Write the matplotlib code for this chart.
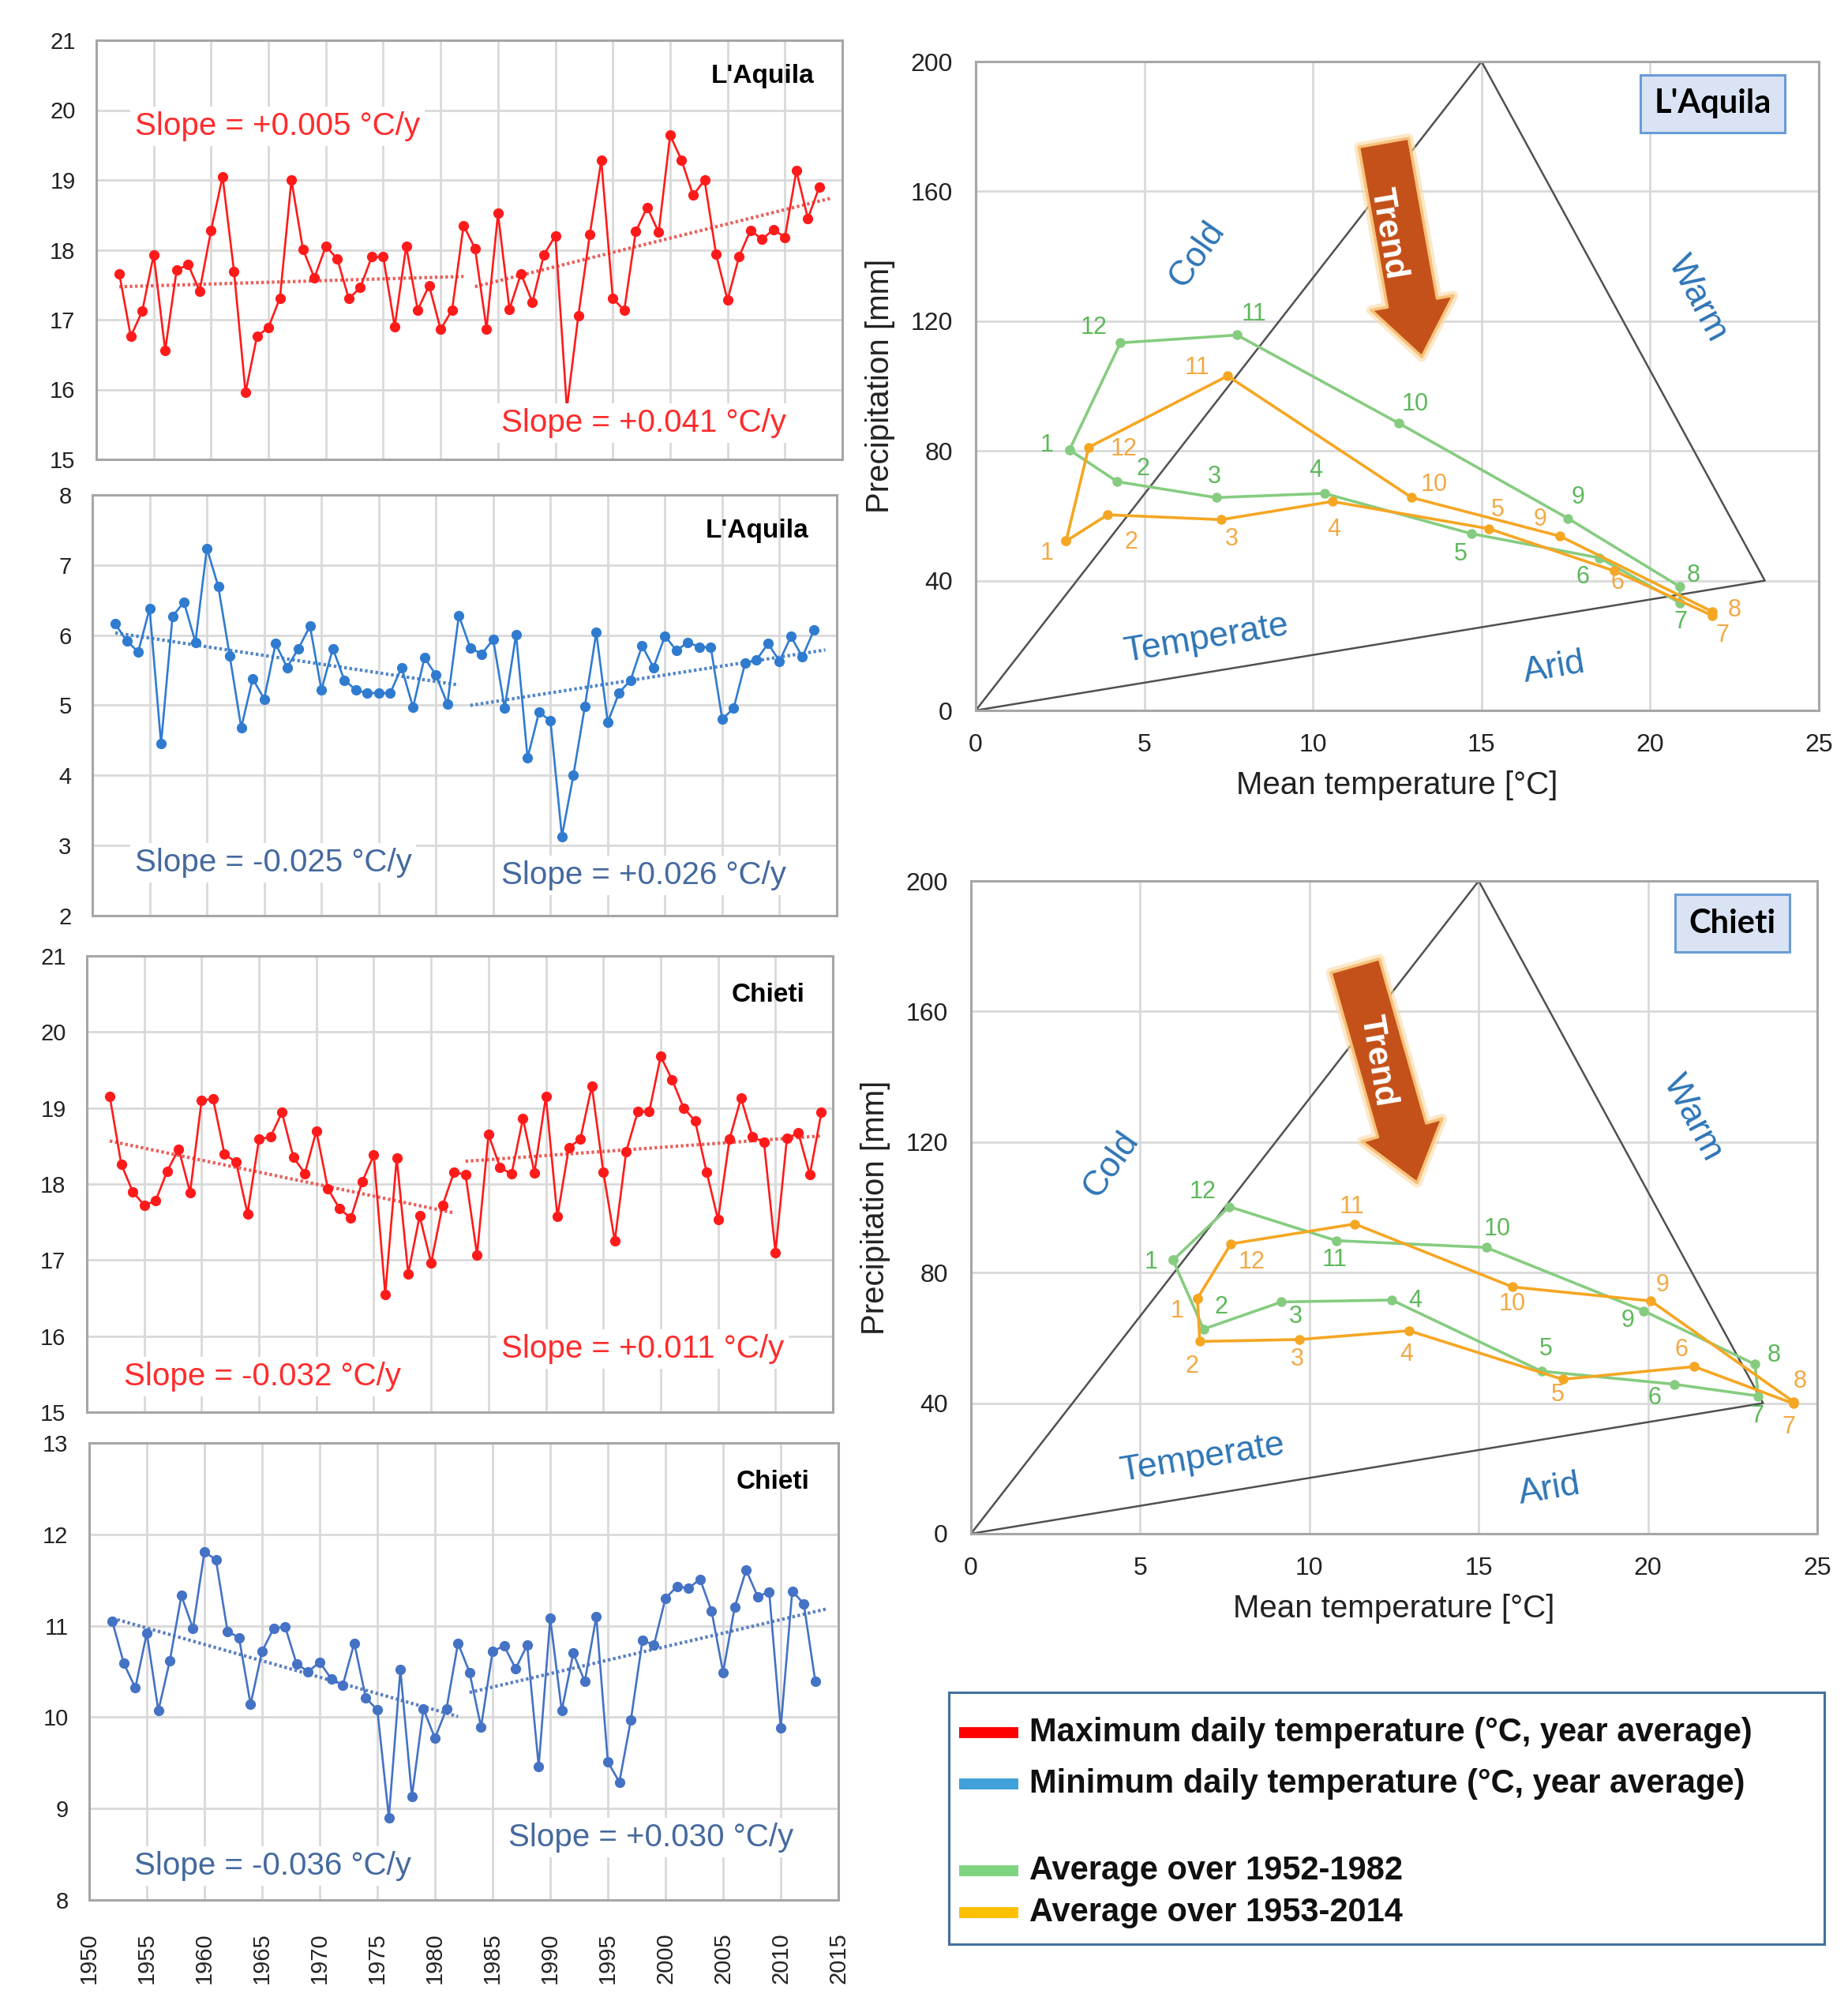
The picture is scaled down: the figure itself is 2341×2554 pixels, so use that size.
import numpy as np
import matplotlib
matplotlib.use("Agg")
import matplotlib.pyplot as plt
from matplotlib.patches import FancyArrowPatch
import matplotlib.patheffects as pe

plt.rcParams['font.family'] = ['Liberation Sans', 'DejaVu Sans']

# ---------------- data: annual series ----------------
years_aquila = np.arange(1952, 2014)
tmax_aquila = [17.66, 16.76, 17.12, 17.93, 16.56, 17.71, 17.79, 17.41, 18.28, 19.05,
               17.69, 15.96, 16.76, 16.89, 17.31, 19.00, 18.01, 17.60, 18.05, 17.87,
               17.30, 17.46, 17.90, 17.90, 16.90, 18.05, 17.14, 17.49, 16.86, 17.14,
               18.35, 18.02, 16.87, 18.52, 17.15, 17.66, 17.25, 17.93, 18.20, 15.73,
               17.06, 18.22, 19.28, 17.31, 17.13, 18.26, 18.61, 18.25, 19.64, 19.28,
               18.78, 19.00, 17.94, 17.28, 17.90, 18.28, 18.15, 18.29, 18.18, 19.13,
               18.45, 18.90]
tmin_aquila = [6.16, 5.92, 5.76, 6.38, 4.45, 6.27, 6.47, 5.90, 7.24, 6.69,
               5.70, 4.68, 5.38, 5.09, 5.88, 5.54, 5.81, 6.13, 5.22, 5.81,
               5.36, 5.22, 5.17, 5.18, 5.17, 5.54, 4.97, 5.68, 5.43, 5.02,
               6.28, 5.82, 5.73, 5.94, 4.96, 6.01, 4.25, 4.90, 4.78, 3.13,
               4.00, 4.98, 6.04, 4.76, 5.18, 5.36, 5.85, 5.54, 5.99, 5.78,
               5.90, 5.83, 5.83, 4.80, 4.96, 5.60, 5.65, 5.88, 5.63, 5.98,
               5.69, 6.07]
years_chieti_max = np.arange(1952, 2015)
tmax_chieti = [19.15, 18.26, 17.90, 17.72, 17.78, 18.17, 18.46, 17.89, 19.10, 19.12,
               18.39, 18.29, 17.61, 18.59, 18.62, 18.94, 18.35, 18.14, 18.70, 17.94,
               17.68, 17.55, 18.03, 18.38, 16.55, 18.34, 16.82, 17.58, 16.96, 17.72,
               18.16, 18.12, 17.07, 18.65, 18.22, 18.13, 18.86, 18.15, 19.15, 17.57,
               18.48, 18.59, 19.29, 18.16, 17.25, 18.43, 18.95, 18.95, 19.68, 19.37,
               19.00, 18.83, 18.16, 17.53, 18.59, 19.13, 18.62, 18.55, 17.10, 18.60,
               18.67, 18.12, 18.94]
years_chieti_min = np.arange(1952, 2014)
tmin_chieti = [11.05, 10.59, 10.32, 10.92, 10.07, 10.62, 11.33, 10.97, 11.81, 11.72,
               10.94, 10.87, 10.14, 10.72, 10.97, 10.99, 10.58, 10.50, 10.60, 10.42,
               10.35, 10.81, 10.21, 10.08, 8.90, 10.52, 9.13, 10.09, 9.77, 10.09,
               10.81, 10.49, 9.89, 10.72, 10.78, 10.53, 10.79, 9.46, 11.08, 10.07,
               10.70, 10.39, 11.10, 9.51, 9.29, 9.97, 10.84, 10.79, 11.30, 11.43,
               11.41, 11.51, 11.16, 10.49, 11.20, 11.61, 11.32, 11.37, 9.88, 11.38,
               11.24, 10.39]
trend_periods = [(1952, 1982), (1983, 2014)]
slopes_tmax_aquila = ["Slope = +0.005 °C/y", "Slope = +0.041 °C/y"]
slopes_tmin_aquila = ["Slope = -0.025 °C/y", "Slope = +0.026 °C/y"]
slopes_tmax_chieti = ["Slope = -0.032 °C/y", "Slope = +0.011 °C/y"]
slopes_tmin_chieti = ["Slope = -0.036 °C/y", "Slope = +0.030 °C/y"]

# ---------------- data: monthly climographs ----------------
months = [str(m) for m in range(1, 13)]
aq_T_a = [2.78, 4.20, 7.13, 10.34, 14.69, 18.50, 20.89, 20.87, 17.56, 12.55, 7.75, 4.29]
aq_P_a = [80.3, 70.5, 65.6, 66.9, 54.5, 47.0, 33.1, 38.2, 59.2, 88.5, 115.7, 113.3]
aq_T_b = [2.68, 3.91, 7.28, 10.57, 15.22, 18.94, 21.83, 21.83, 17.33, 12.93, 7.47, 3.35]
aq_P_b = [52.2, 60.3, 58.8, 64.4, 56.0, 43.0, 29.3, 30.5, 53.7, 65.6, 103.1, 81.1]
ch_T_a = [5.97, 6.87, 9.17, 12.43, 16.85, 20.77, 23.26, 23.16, 19.87, 15.22, 10.79, 7.63]
ch_P_a = [83.8, 62.7, 71.0, 71.6, 49.8, 45.8, 42.2, 51.9, 68.3, 87.7, 89.8, 100.2]
ch_T_b = [6.69, 6.76, 9.70, 12.94, 17.48, 21.37, 24.29, 24.29, 20.09, 16.00, 11.34, 7.68]
ch_P_b = [72.1, 58.9, 59.5, 62.2, 47.3, 51.2, 39.9, 40.5, 71.3, 75.6, 94.9, 88.8]
triangle_T = [0, 15, 23.4, 0]
triangle_P = [0, 200, 40, 0]

# label offsets (data units) for month numbers
off_aq_a = [(-0.66, 1.4), (0.75, 3.9), (-0.06, 6.3), (-0.25, 7.0), (-0.32, -6.4), (-0.5, -5.8),
            (0.0, -5.9), (0.4, 3.5), (0.3, 6.6), (0.47, 5.9), (0.5, 6.4), (-0.8, 4.7)]
off_aq_b = [(-0.56, -3.7), (0.7, -8.4), (0.32, -6.1), (0.05, -8.7), (0.26, 5.8), (0.1, -3.6),
            (0.32, -6.1), (0.67, 0.3), (-0.6, 5.1), (0.66, 3.9), (-0.91, 2.5), (1.04, -0.6)]
off_ch_a = [(-0.66, -0.6), (0.51, 6.6), (0.43, -4.5), (0.69, -0.3), (0.14, 6.8), (-0.57, -4.1),
            (-0.04, -6.1), (0.57, 2.8), (-0.47, -3.0), (0.32, 5.6), (-0.06, -6.0), (-0.79, 4.5)]
off_ch_b = [(-0.61, -3.8), (-0.23, -7.6), (-0.06, -6.1), (-0.08, -7.2), (-0.15, -4.8), (-0.37, 5.2),
            (-0.13, -7.3), (0.19, 6.1), (0.34, 4.9), (0.0, -5.3), (-0.08, 5.3), (0.61, -5.7)]

legend_labels = ["Maximum daily temperature (°C, year average)",
                 "Minimum daily temperature (°C, year average)",
                 "Average over 1952-1982",
                 "Average over 1953-2014"]

# ---------------- styling ----------------
W, H = 2341, 2554
fig = plt.figure(figsize=(W / 100, H / 100), dpi=100)
fig.patch.set_facecolor('white')


def px_rect(l, t, r, b):
    return [l / W, (H - b) / H, (r - l) / W, (b - t) / H]


GRID = '#D9D9D9'
SPINE = '#A6A6A6'


def ts_panel(rect, years, vals, color, tcolor, ylim, title, slopes, scolor, slope_pos, xlabels):
    ax = fig.add_axes(rect)
    years = np.asarray(years)
    vals = np.asarray(vals)
    ax.plot(years, vals, '-o', color=color, lw=1.9, ms=8.5, zorder=4)
    for (y0, y1) in trend_periods:
        m = (years >= y0) & (years <= y1)
        p = np.polyfit(years[m], vals[m], 1)
        xx = np.array([y0, y1], dtype=float)
        ax.plot(xx, np.polyval(p, xx), ls=(0, (0.8, 0.8)), color=tcolor, lw=3.0, zorder=3)
    ax.set_xlim(1950, 2015)
    ax.set_ylim(*ylim)
    ax.set_xticks(np.arange(1950, 2016, 5))
    ax.set_yticks(np.arange(ylim[0], ylim[1] + 1, 1))
    ax.grid(True, color=GRID, lw=2)
    ax.set_axisbelow(True)
    for s in ax.spines.values():
        s.set_color(SPINE)
        s.set_linewidth(2.2)
    ax.tick_params(length=0, labelsize=21, pad=19, colors='#222222')
    if xlabels:
        ax.tick_params(axis='x', pad=30)
        for lab in ax.get_xticklabels():
            lab.set_rotation(90)
    else:
        ax.set_xticklabels([])
    ax.text(0.962, 0.915, title, transform=ax.transAxes, ha='right', va='center',
            fontsize=24, fontweight='bold', color='black')
    for txt, (x, y) in zip(slopes, slope_pos):
        ax.text(x, y, txt, ha='left', va='center', fontsize=29, color=scolor, zorder=5,
                bbox=dict(boxstyle='square,pad=0.15', fc='white', ec='none'))
    return ax


RED = '#FF1A1A'
ts_panel(px_rect(122, 51, 1067, 582), years_aquila, tmax_aquila, RED, '#E8605A', (15, 21),
         "L'Aquila", slopes_tmax_aquila, '#FF2B2B', [(1953.4, 19.77), (1985.3, 15.52)], False)
ts_panel(px_rect(117, 627, 1060, 1160), years_aquila, tmin_aquila, '#2F7BD0', '#4F86C6', (2, 8),
         "L'Aquila", slopes_tmin_aquila, '#44699E', [(1953.7, 2.75), (1985.7, 2.57)], False)
ts_panel(px_rect(110, 1211, 1055, 1789), years_chieti_max, tmax_chieti, RED, '#E8605A', (15, 21),
         "Chieti", slopes_tmax_chieti, '#FF2B2B', [(1953.2, 15.47), (1986.1, 15.83)], False)
ts_panel(px_rect(113, 1828, 1062, 2407), years_chieti_min, tmin_chieti, '#4472C4', '#5A7FBF', (8, 13),
         "Chieti", slopes_tmin_chieti, '#44699E', [(1953.9, 8.37), (1986.4, 8.68)], True)

GREEN = '#86CC80'
ORANGE = '#F5A623'
GREEN_T = '#5DB85A'
ORANGE_T = '#F2A945'
BLUE_T = '#2E75B6'


def climo(rect, Ta, Pa, Tb, Pb, offa, offb, station, box_xy, cold_xy, warm_xy, temp_xy, arid_xy,
          arrow_from, arrow_to, trend_xy):
    ax = fig.add_axes(rect)
    ax.plot(triangle_T, triangle_P, color='#505050', lw=1.8, zorder=2)
    for T, P, off, c, ct in [(Ta, Pa, offa, GREEN, GREEN_T), (Tb, Pb, offb, ORANGE, ORANGE_T)]:
        ax.plot(list(T) + [T[0]], list(P) + [P[0]], '-o', color=c, lw=2.6, ms=8, zorder=4)
        for m, t, p, (dx, dy) in zip(months, T, P, off):
            ax.text(t + dx, p + dy, m, color=ct, fontsize=22, ha='center', va='center', zorder=5)
    ax.set_xlim(0, 25)
    ax.set_ylim(0, 200)
    ax.set_xticks(np.arange(0, 26, 5))
    ax.set_yticks(np.arange(0, 201, 40))
    ax.grid(True, color=GRID, lw=2)
    ax.set_axisbelow(True)
    for s in ax.spines.values():
        s.set_color(SPINE)
        s.set_linewidth(2.2)
    ax.tick_params(length=0, labelsize=23, pad=21, colors='#222222')
    ax.set_xlabel('Mean temperature [°C]', fontsize=29, labelpad=12, color='#222222')
    ax.set_ylabel('Precipitation [mm]', fontsize=29, labelpad=14, color='#222222')
    ax.text(*cold_xy, 'Cold', rotation=55, fontsize=32, color=BLUE_T, ha='center', va='center',
            rotation_mode='anchor')
    ax.text(*warm_xy, 'Warm', rotation=-62, fontsize=32, color=BLUE_T, ha='center', va='center',
            rotation_mode='anchor')
    ax.text(*temp_xy, 'Temperate', rotation=9.5, fontsize=32, color=BLUE_T, ha='center', va='center',
            rotation_mode='anchor')
    ax.text(*arid_xy, 'Arid', rotation=9.5, fontsize=32, color=BLUE_T, ha='center', va='center',
            rotation_mode='anchor')
    arr = FancyArrowPatch(arrow_from, arrow_to,
                          arrowstyle='simple,head_length=1.25,head_width=1.9,tail_width=1.15',
                          mutation_scale=40, shrinkA=0, shrinkB=0,
                          fc='#C5511A', ec='#F7C27A', lw=2.5, zorder=6,
                          path_effects=[pe.withStroke(linewidth=9, foreground='#FBD9A8', alpha=0.6),
                                        pe.Normal()])
    ax.add_patch(arr)
    ax.text(*trend_xy, 'Trend', rotation=-80.5, fontsize=31, fontweight='bold', color='white',
            ha='center', va='center', rotation_mode='anchor', zorder=7)
    ax.text(*box_xy, station, fontsize=30, fontweight='bold', color='black', ha='center', va='center',
            family=['Lato', 'DejaVu Sans'], zorder=7,
            bbox=dict(boxstyle='square,pad=0.42', fc='#DAE3F3', ec='#6A9BD8', lw=2.2))
    return ax


climo(px_rect(1236, 78, 2304, 900), aq_T_a, aq_P_a, aq_T_b, aq_P_b, off_aq_a, off_aq_b, "L'Aquila",
      (21.85, 187), (6.56, 140.7), (21.4, 127), (6.84, 22.1), (17.15, 13.0),
      (12.1, 175), (13.23, 109), (12.23, 147))
climo(px_rect(1230, 1116, 2302, 1943), ch_T_a, ch_P_a, ch_T_b, ch_P_b, off_ch_a, off_ch_b, "Chieti",
      (22.5, 187), (4.14, 113.1), (21.33, 127.5), (6.84, 23.2), (17.1, 13.4),
      (11.35, 174), (13.18, 107.5), (12.0, 145))

# ---------------- legend box ----------------
lax = fig.add_axes(px_rect(1202, 2144, 2311, 2463))
lax.set_xlim(0, 1)
lax.set_ylim(0, 1)
lax.set_xticks([])
lax.set_yticks([])
for s in lax.spines.values():
    s.set_color('#41719C')
    s.set_linewidth(2.2)
leg_colors = ['#FF0000', '#3FA0DA', '#7FD47F', '#FFC000']
leg_y = [0.840, 0.636, 0.292, 0.125]
for lab, c, y in zip(legend_labels, leg_colors, leg_y):
    lax.plot([0.012, 0.079], [y, y], color=c, lw=10, solid_capstyle='butt')
    lax.text(0.092, y, lab, fontsize=30, fontweight='bold', ha='left', va='center',
             color='#111111')

fig.savefig('out.png', dpi=100, facecolor='white')
